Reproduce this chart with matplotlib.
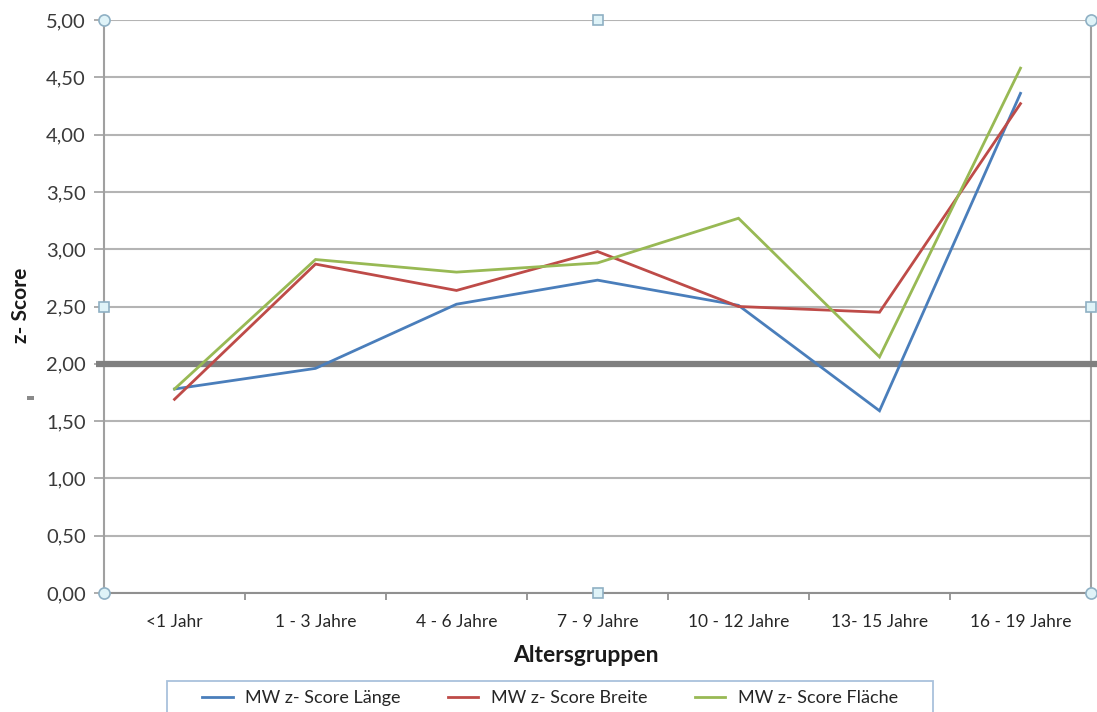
import matplotlib
matplotlib.use("Agg")
import matplotlib.pyplot as plt
from matplotlib.patches import Rectangle
from matplotlib.lines import Line2D

plt.rcParams['font.family'] = ['Lato', 'DejaVu Sans']

categories = ["<1 Jahr", "1 - 3 Jahre", "4 - 6 Jahre", "7 - 9 Jahre",
              "10 - 12 Jahre", "13- 15 Jahre", "16 - 19 Jahre"]
laenge = [1.78, 1.96, 2.52, 2.73, 2.51, 1.59, 4.36]
breite = [1.69, 2.87, 2.64, 2.98, 2.50, 2.45, 4.27]
flaeche = [1.78, 2.91, 2.80, 2.88, 3.27, 2.06, 4.58]
series_names = ["MW z- Score Länge", "MW z- Score Breite", "MW z- Score Fläche"]
yticks = [0, 0.5, 1, 1.5, 2, 2.5, 3, 3.5, 4, 4.5, 5]
threshold = 2.0

colors = ["#4a7ebb", "#be4b48", "#98b954"]
W, H = 1097, 712
fig = plt.figure(figsize=(W / 100, H / 100), dpi=100)
ax = fig.add_axes([104 / W, (H - 593) / H, (1091 - 104) / W, (593 - 20) / H])

x = list(range(len(categories)))
for vals, c, n in zip([laenge, breite, flaeche], colors, series_names):
    ax.plot(x, vals, color=c, lw=2.0, label=n, zorder=4, solid_joinstyle='miter')

ax.set_xlim(-0.5, len(categories) - 0.5)
ax.set_ylim(0, 5)
ax.set_yticks(yticks)
ax.set_yticklabels([f"{v:.2f}".replace(".", ",") for v in yticks],
                   fontsize=14.5, color="#3a3a3a")
ax.set_xticks(x)
ax.set_xticklabels(categories, fontsize=12.5, color="#262626")
ax.set_xticks([i + 0.5 for i in x[:-1]], minor=True)
ax.tick_params(axis='x', which='major', length=0, pad=15)
ax.tick_params(axis='x', which='minor', length=5, color="#888888", width=1.2)
ax.tick_params(axis='y', which='major', length=7, color="#a0a0a0", width=1.2, pad=6)

ax.grid(axis='y', color="#b4b4b4", lw=1.5, zorder=1)
ax.spines['top'].set_visible(False)
for s in ['left', 'bottom', 'right']:
    ax.spines[s].set_color("#a0a0a0")
    ax.spines[s].set_linewidth(1.5)
ax.spines['bottom'].set_color("#909090")

# threshold line at 2.00 extending beyond axes
ax.plot([-0.56, 6.6], [threshold, threshold], color="#7f7f7f", lw=4.5,
        clip_on=False, zorder=3, solid_capstyle='butt')

fig.text(507 / W + (665 - 507) / 2 / W, 1 - 655 / H, "Altersgruppen", fontsize=16.5,
         fontweight='bold', color="#1a1a1a", ha='center', va='center')
fig.text(21 / W, 1 - 305 / H, "z- Score", fontsize=15, fontweight='bold',
         color="#1a1a1a", ha='center', va='center', rotation=90)
fig.patches.append(Rectangle((27 / W, 1 - 400 / H), 7 / W, 4 / H,
                             transform=fig.transFigure, color="#8a8a8a", lw=0))

# selection handles
for (hx, hy, mk) in [(-0.5, 5, 'o'), (6.5, 5, 'o'), (-0.5, 0, 'o'), (6.5, 0, 'o'),
                     (3, 5, 's'), (3, 0, 's'), (-0.5, 2.5, 's'), (6.5, 2.5, 's')]:
    ax.plot([hx], [hy], marker=mk, ms=8 if mk == 'o' else 7, mfc="#dff3f8",
            mec="#8fb0c4", mew=1.2, clip_on=False, zorder=6)

# legend
handles = [Line2D([0], [0], color=c, lw=2.0) for c in colors]
leg = fig.legend(handles, series_names, loc='center', ncol=3,
                 bbox_to_anchor=(550 / W, 1 - 698 / H), frameon=False,
                 fontsize=13, handlelength=1.7, columnspacing=2.6, handletextpad=0.7,
                 labelcolor="#262626", borderpad=0.0)
fig.patches.append(Rectangle((167 / W, -0.02), (933 - 167) / W, (H - 681) / H + 0.02,
                             transform=fig.transFigure, fill=False,
                             edgecolor="#a9c1dc", lw=1.3))

fig.savefig("out.png", dpi=100)
